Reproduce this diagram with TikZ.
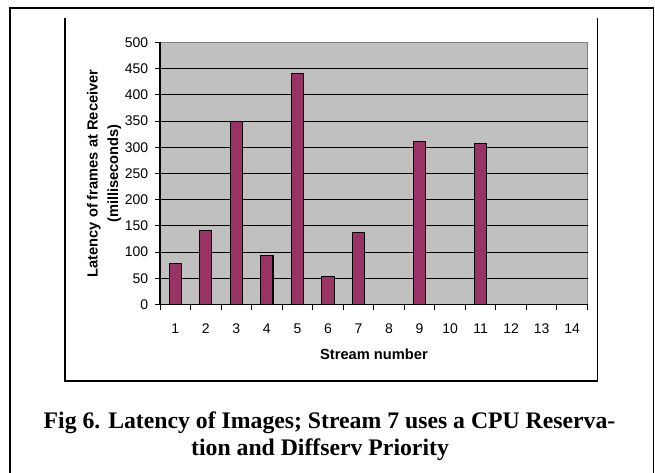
\documentclass[tikz,border=0pt]{standalone}
\usepackage{fontspec}
\setmainfont{Liberation Serif}
\newfontfamily\arial{Liberation Sans}
\definecolor{barplum}{HTML}{993366}
\definecolor{plotgray}{HTML}{C0C0C0}
\definecolor{bordergray}{HTML}{808080}
\tikzset{
  ticklbl/.style={font=\arial\fontsize{10.5}{12}\selectfont, inner sep=0pt},
  axtitle/.style={font=\arial\bfseries\fontsize{11}{13}\selectfont, inner sep=0pt},
  captxt/.style={font=\bfseries\fontsize{17.8}{20}\selectfont, inner sep=0pt, anchor=base},
  barbox/.style={fill=barplum, draw=black, line width=0.8pt},
  gridln/.style={draw=black, line width=0.75pt},
  framebox/.style={draw=black, line width=1.4pt},
  chartbox/.style={draw=black, line width=0.9pt},
}
\begin{document}
\begin{tikzpicture}[x=0.75pt,y=-0.75pt]
\useasboundingbox (0,0) rectangle (655,473);
\fill[white] (0,0) rectangle (655,473);
% outer frame (bottom beyond the picture)
\draw[framebox] (10,473) -- (10,8) -- (653.5,8) -- (653.5,473);
% chart frame (top beyond)
\draw[chartbox] (65,18) -- (65,381) -- (597.8,381) -- (597.8,18);
% plot area
\fill[plotgray] (160,42.5) rectangle (587.5,304.5);
\draw[bordergray, line width=0.8pt] (160,42.5) rectangle (587.5,304.5);
% gridlines and y ticks
\foreach \v in {50,100,...,450} {
  \draw[gridln] (160,{304.5-0.524*\v}) -- (587.5,{304.5-0.524*\v});
}
\foreach \v in {0,50,...,500} {
  \draw[black, line width=0.75pt] (155,{304.5-0.524*\v}) -- (160,{304.5-0.524*\v});
  \node[ticklbl, anchor=east] (y\v) at (148.5,{304.5-0.524*\v}) {\v};
}
% bars
\foreach \c/\v in {1/79,2/141,3/349,4/93,5/441,6/54,7/138,9/311,11/307} {
  \draw[barbox] ({160+30.536*(\c-0.5)-6.15},304.5) rectangle ({160+30.536*(\c-0.5)+6.15},{304.5-0.524*\v});
}
% axes
\draw[black, line width=0.8pt] (160,42.5) -- (160,304.5) -- (587.5,304.5);
\foreach \i in {0,...,14} {
  \draw[black, line width=0.75pt] ({160+30.536*\i},304.5) -- ({160+30.536*\i},310);
}
\foreach \c in {1,...,14} {
  \node[ticklbl, anchor=base] (x\c) at ({160+30.536*(\c-0.5)},333.3) {\c};
}
% axis titles
\node[axtitle, anchor=base] (xtitle) at (374,359.5) {Stream number};
\node[axtitle, anchor=base, rotate=90] (ytitle1) at (97.5,173.5) {Latency of frames at Receiver};
\node[axtitle, anchor=base, rotate=90] (ytitle2) at (118,173.5) {(milliseconds)};
% caption
\node[captxt] (cap1) at (329.5,428.5) {Fig 6. Latency of Images; Stream 7 uses a CPU Reserva-};
\node[captxt] (cap2) at (320,455.6) {tion and Diffserv Priority};
\end{tikzpicture}
\end{document}
